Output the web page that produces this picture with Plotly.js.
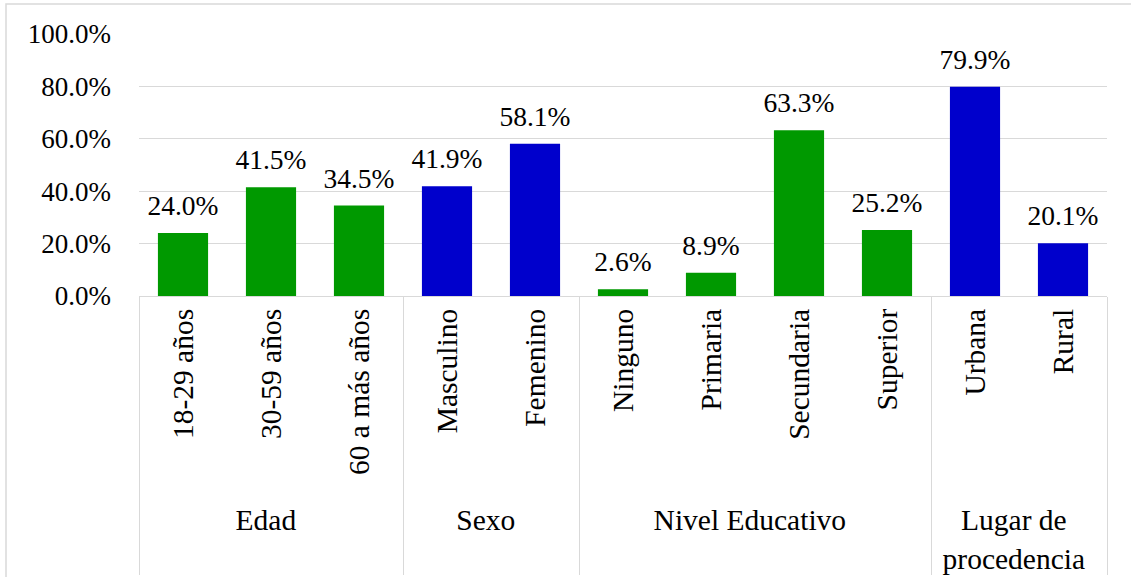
<!DOCTYPE html>
<html>
<head>
<meta charset="utf-8">
<script src="https://cdn.plot.ly/plotly-3.0.1.min.js"></script>
<style>html,body{margin:0;padding:0;background:#fff;}#chart{width:1131px;height:577px;}</style>
</head>
<body>
<div id="chart"></div>
<script>
var groups = ["Edad","Edad","Edad","Sexo","Sexo","Nivel Educativo","Nivel Educativo","Nivel Educativo","Nivel Educativo","Lugar de<br>procedencia","Lugar de<br>procedencia"];
var categories = ["18-29 años","30-59 años","60 a más años","Masculino","Femenino","Ninguno","Primaria","Secundaria","Superior","Urbana","Rural"];
var values = [24.0, 41.5, 34.5, 41.9, 58.1, 2.6, 8.9, 63.3, 25.2, 79.9, 20.1];
var barColors = ["#009900","#009900","#009900","#0000CC","#0000CC","#009900","#009900","#009900","#009900","#0000CC","#0000CC"];
var yTicks = [0, 20, 40, 60, 80, 100];

var font = "'Liberation Serif', 'Times New Roman', serif";
var fs = 27;
var fsx = 29.5;
var bars = {
  type: "bar",
  x: [groups, categories],
  y: values,
  marker: {color: barColors},
  hoverinfo: "none"
};
var labels = {
  type: "scatter",
  mode: "markers+text",
  x: [groups, categories],
  y: values,
  marker: {size: 16, color: "rgba(0,0,0,0)"},
  text: values.map(function(v){ return v.toFixed(1) + "%"; }),
  textposition: "top center",
  cliponaxis: false,
  textfont: {family: font, size: 27.5, color: "#000"},
  hoverinfo: "none"
};
var layout = {
  width: 1131, height: 577,
  margin: {l: 139, r: 24, t: 34, b: 281},
  paper_bgcolor: "#fff", plot_bgcolor: "#fff",
  showlegend: false,
  bargap: 0.43,
  font: {family: font, size: fs, color: "#000"},
  xaxis: {
    type: "multicategory",
    range: [-0.5, categories.length - 0.5],
    autorange: false,
    tickangle: -90,
    showline: true, linecolor: "#d9d9d9", linewidth: 1,
    showdividers: true, dividercolor: "#d9d9d9", dividerwidth: 1,
    ticks: "",
    tickfont: {family: font, size: fsx, color: "#000"}
  },
  yaxis: {
    range: [0, 100],
    tickvals: yTicks,
    ticktext: yTicks.map(function(v){ return v.toFixed(1) + "%"; }),
    showgrid: true, gridcolor: "#d9d9d9", gridwidth: 1,
    zeroline: false, showline: false, ticks: "",
    ticklabelstandoff: 27,
    tickfont: {family: font, size: fs, color: "#000"}
  },
  shapes: [{
    type: "rect", xref: "paper", yref: "paper",
    x0: -0.1374, x1: 1.05, y0: 1.1145, y1: -1.2,
    line: {color: "#d9d9d9", width: 1.5}, layer: "below"
  }]
};
Plotly.newPlot("chart", [bars, labels], layout, {staticPlot: true});
</script>
</body>
</html>
